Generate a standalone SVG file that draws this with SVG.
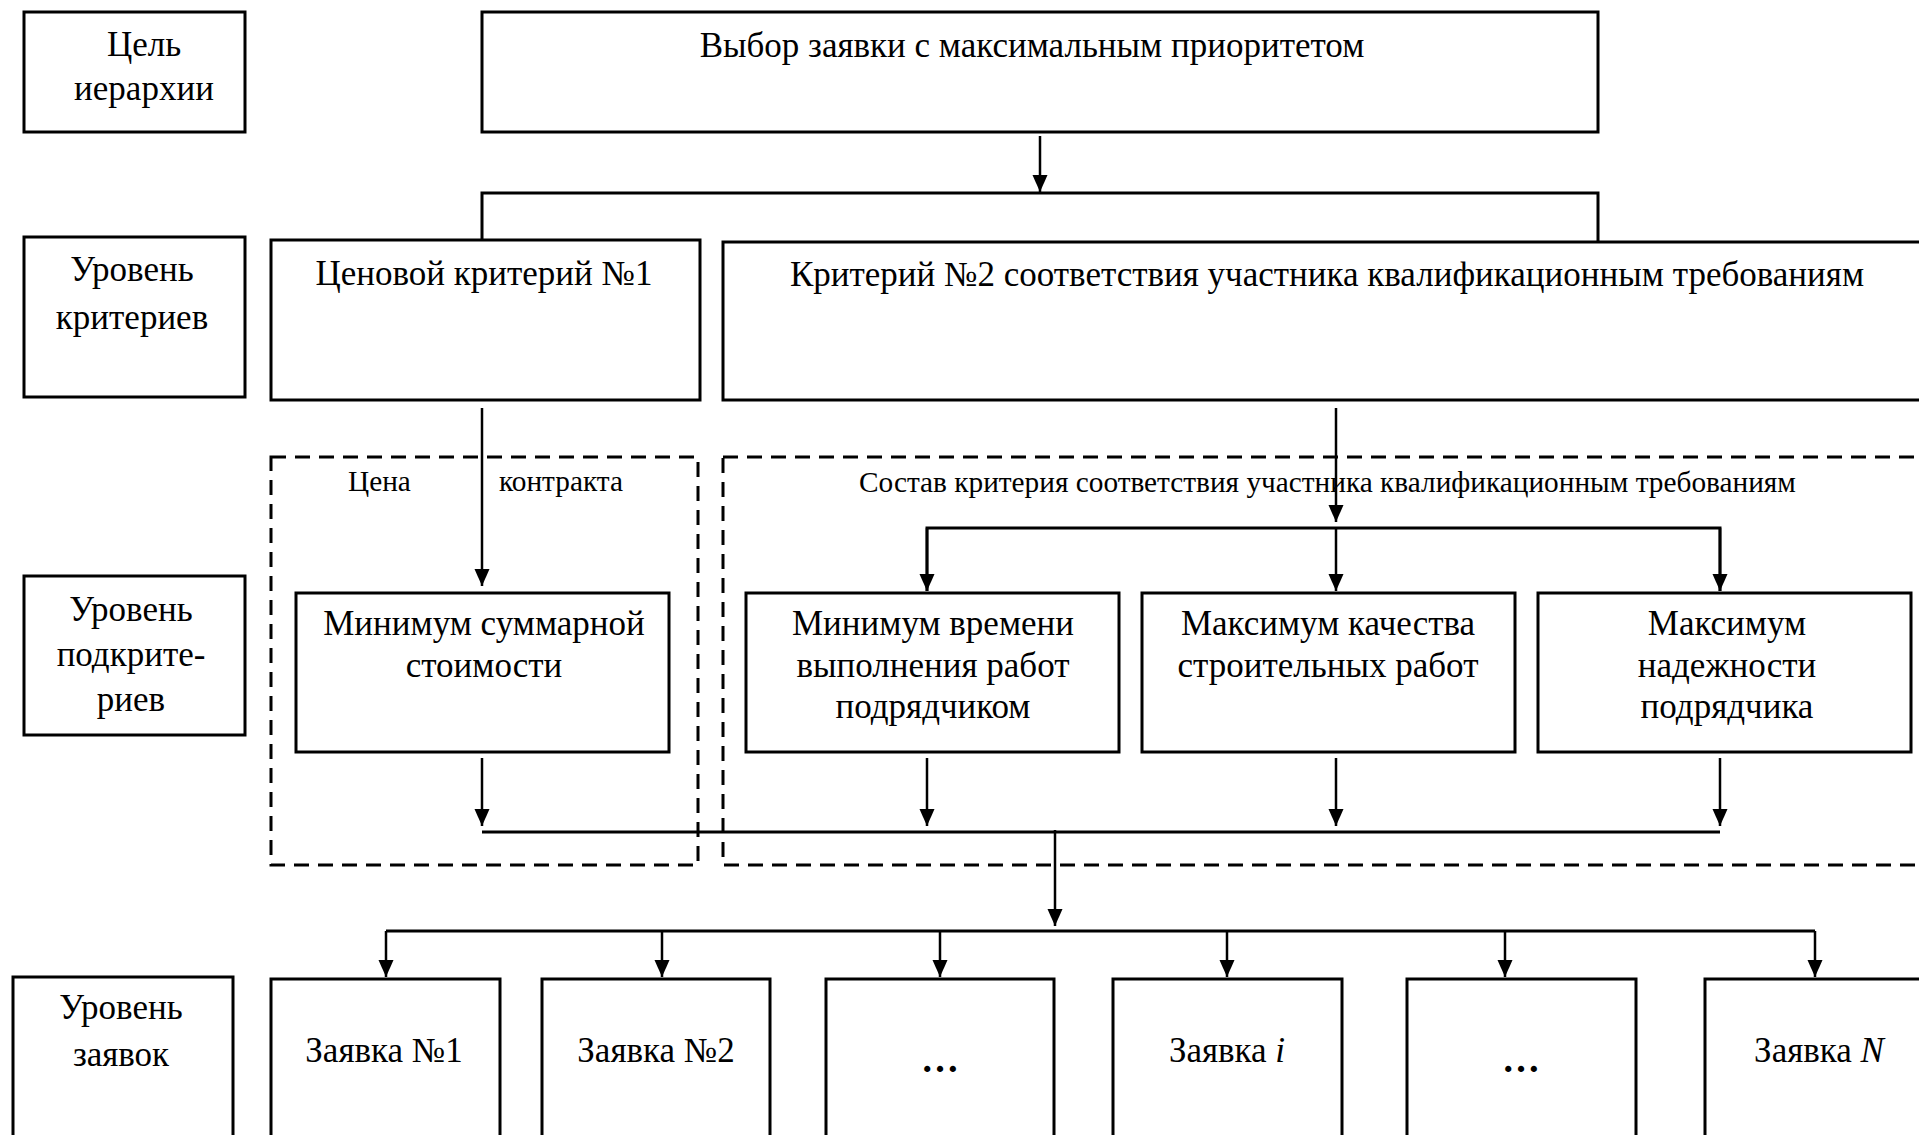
<svg xmlns="http://www.w3.org/2000/svg" width="1919" height="1135" viewBox="0 0 1919 1135">
<defs>
<marker id="arr" markerUnits="userSpaceOnUse" markerWidth="17" markerHeight="16" refX="17" refY="7.5" orient="auto">
<path d="M0,0 L17,7.5 L0,15 Z" fill="#000"/>
</marker>
<style>
.box{fill:#fff;stroke:#000;stroke-width:3}
.dash{fill:none;stroke:#000;stroke-width:3;stroke-dasharray:15 9}
.ln{fill:none;stroke:#000;stroke-width:3}
.ar{fill:none;stroke:#000;stroke-width:2.5;marker-end:url(#arr)}
text{font-family:"Liberation Serif","Times New Roman",serif;font-size:35px;fill:#000;text-anchor:middle}
.sm{font-size:29.3px;text-anchor:start}
.dots{font-weight:bold;font-size:38px}
</style>
</defs>
<rect width="1919" height="1135" fill="#fff"/>

<g id="dashed-groups">
<rect class="dash" x="271" y="457" width="427" height="408"/>
<rect class="dash" x="723" y="457" width="1220" height="408"/>
</g>

<g id="label-goal">
<rect class="box" x="24" y="12" width="221" height="120"/>
<text x="144" y="56">Цель</text>
<text x="144" y="100">иерархии</text>
</g>
<g id="goal">
<rect class="box" x="482" y="12" width="1116" height="120"/>
<text x="1032" y="57">Выбор заявки с максимальным приоритетом</text>
</g>

<g id="label-criteria">
<rect class="box" x="24" y="237" width="221" height="160"/>
<text x="132" y="281">Уровень</text>
<text x="132" y="329">критериев</text>
</g>
<g id="crit1">
<rect class="box" x="271" y="240" width="429" height="160"/>
<text x="484" y="285">Ценовой критерий №1</text>
</g>
<g id="crit2">
<rect class="box" x="723" y="242" width="1220" height="158"/>
<text x="1327" y="286">Критерий №2 соответствия участника квалификационным требованиям</text>
</g>

<g id="group-labels">
<text class="sm" x="348" y="491">Цена</text>
<text class="sm" x="499" y="491">контракта</text>
<text class="sm" x="859" y="492">Состав критерия соответствия участника квалификационным требованиям</text>
</g>

<g id="label-sub">
<rect class="box" x="24" y="576" width="221" height="159"/>
<text x="131" y="621">Уровень</text>
<text x="131" y="666">подкрите-</text>
<text x="131" y="711">риев</text>
</g>
<g id="sub1">
<rect class="box" x="296" y="593" width="373" height="159"/>
<text x="484" y="635">Минимум суммарной</text>
<text x="484" y="677">стоимости</text>
</g>
<g id="sub2">
<rect class="box" x="746" y="593" width="373" height="159"/>
<text x="933" y="635">Минимум времени</text>
<text x="933" y="677">выполнения работ</text>
<text x="933" y="718">подрядчиком</text>
</g>
<g id="sub3">
<rect class="box" x="1142" y="593" width="373" height="159"/>
<text x="1328" y="635">Максимум качества</text>
<text x="1328" y="677">строительных работ</text>
</g>
<g id="sub4">
<rect class="box" x="1538" y="593" width="373" height="159"/>
<text x="1727" y="635">Максимум</text>
<text x="1727" y="677">надежности</text>
<text x="1727" y="718">подрядчика</text>
</g>

<g id="label-bids">
<rect class="box" x="13" y="977" width="220" height="200"/>
<text x="121" y="1019">Уровень</text>
<text x="121" y="1066">заявок</text>
</g>
<g id="bid1">
<rect class="box" x="271" y="979" width="229" height="200"/>
<text x="384" y="1062">Заявка №1</text>
</g>
<g id="bid2">
<rect class="box" x="542" y="979" width="228" height="200"/>
<text x="656" y="1062">Заявка №2</text>
</g>
<g id="bid-dots1">
<rect class="box" x="826" y="979" width="228" height="200"/>
<text class="dots" x="940" y="1072">…</text>
</g>
<g id="bid-i">
<rect class="box" x="1113" y="979" width="229" height="200"/>
<text x="1227" y="1062">Заявка <tspan font-style="italic">i</tspan></text>
</g>
<g id="bid-dots2">
<rect class="box" x="1407" y="979" width="229" height="200"/>
<text class="dots" x="1521" y="1072">…</text>
</g>
<g id="bid-n">
<rect class="box" x="1705" y="979" width="240" height="200"/>
<text x="1819" y="1062">Заявка <tspan font-style="italic">N</tspan></text>
</g>

<g id="connectors">
<line class="ar" x1="1040" y1="136" x2="1040" y2="192"/>
<polyline class="ln" points="482,240 482,193 1598,193 1598,242"/>
<line class="ar" x1="482" y1="408" x2="482" y2="586"/>
<line class="ar" x1="1336" y1="408" x2="1336" y2="522"/>
<polyline class="ln" points="927,591 927,528 1720,528 1720,591"/>
<line class="ar" x1="927" y1="528" x2="927" y2="591"/>
<line class="ar" x1="1336" y1="528" x2="1336" y2="591"/>
<line class="ar" x1="1720" y1="528" x2="1720" y2="591"/>
<line class="ar" x1="482" y1="758" x2="482" y2="826"/>
<line class="ar" x1="927" y1="758" x2="927" y2="826"/>
<line class="ar" x1="1336" y1="758" x2="1336" y2="826"/>
<line class="ar" x1="1720" y1="758" x2="1720" y2="826"/>
<line class="ln" x1="482" y1="832" x2="1720" y2="832" stroke-width="3.5"/>
<line class="ar" x1="1055" y1="830" x2="1055" y2="926"/>
<polyline class="ln" points="386,931 1815,931"/>
<line class="ar" x1="386" y1="931" x2="386" y2="977"/>
<line class="ar" x1="662" y1="931" x2="662" y2="977"/>
<line class="ar" x1="940" y1="931" x2="940" y2="977"/>
<line class="ar" x1="1227" y1="931" x2="1227" y2="977"/>
<line class="ar" x1="1505" y1="931" x2="1505" y2="977"/>
<line class="ar" x1="1815" y1="931" x2="1815" y2="977"/>
</g>
</svg>
